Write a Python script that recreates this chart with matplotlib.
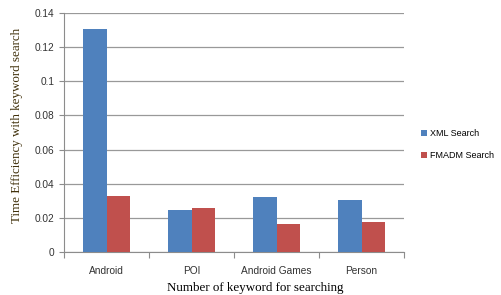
import numpy as np
import matplotlib.pyplot as plt

# data
categories = ["Android", "POI", "Android Games", "Person"]
xml_search = [0.1305, 0.0246, 0.0322, 0.0305]
fmadm_search = [0.0326, 0.0258, 0.0164, 0.0176]
yticks = [0, 0.02, 0.04, 0.06, 0.08, 0.1, 0.12, 0.14]
ytick_labels = ["0", "0.02", "0.04", "0.06", "0.08", "0.1", "0.12", "0.14"]

blue = "#4F81BD"
red = "#C0504D"

fig = plt.figure(figsize=(5.02, 2.95), dpi=100)
ax = fig.add_axes([0.1275, 0.1458, 0.6775, 0.8102])

x = np.arange(len(categories))
w = 0.28
ax.bar(x - w / 2, xml_search, w, color=blue, label="XML Search", zorder=3)
ax.bar(x + w / 2, fmadm_search, w, color=red, label="FMADM Search", zorder=3)

ax.set_xlim(-0.5, len(categories) - 0.5)
ax.set_ylim(0, 0.14)
ax.set_yticks(yticks)
ax.set_yticklabels(ytick_labels, fontsize=7.3, color="#333333",
                   family="Liberation Sans")
ax.yaxis.grid(True, color="#999999", linewidth=0.9, zorder=0)

# category labels between boundary ticks
ax.set_xticks(np.arange(len(categories) + 1) - 0.5)
ax.set_xticklabels([])
ax.set_xticks(x, minor=True)
ax.set_xticklabels(categories, minor=True, fontsize=7.3, color="#333333",
                   family="Liberation Sans")
ax.tick_params(axis="x", which="minor", length=0, pad=10)
ax.tick_params(axis="x", which="major", length=4, color="#8c8c8c",
               direction="out")
ax.tick_params(axis="y", length=3.6, color="#8c8c8c", direction="out", pad=3.5)

for s in ["top", "right"]:
    ax.spines[s].set_visible(False)
ax.spines["left"].set_color("#8c8c8c")
ax.spines["bottom"].set_color("#8c8c8c")

ax.set_xlabel("Number of keyword for searching", family="Liberation Serif",
              fontsize=9.4)
ax.xaxis.set_label_coords(0.562, -0.125)
ax.set_ylabel("Time Efficiency with keyword search", family="Liberation Serif",
              fontsize=9.4, color="#40300a")
ax.yaxis.set_label_coords(-0.12, 0.531)

leg = fig.legend(loc="center left", bbox_to_anchor=(0.822, 0.51), frameon=False,
                 prop={"family": "Liberation Sans", "size": 6.5},
                 handlelength=0.7, handleheight=0.7, handletextpad=0.3,
                 labelspacing=1.4)

fig.savefig("out.png", dpi=100)
